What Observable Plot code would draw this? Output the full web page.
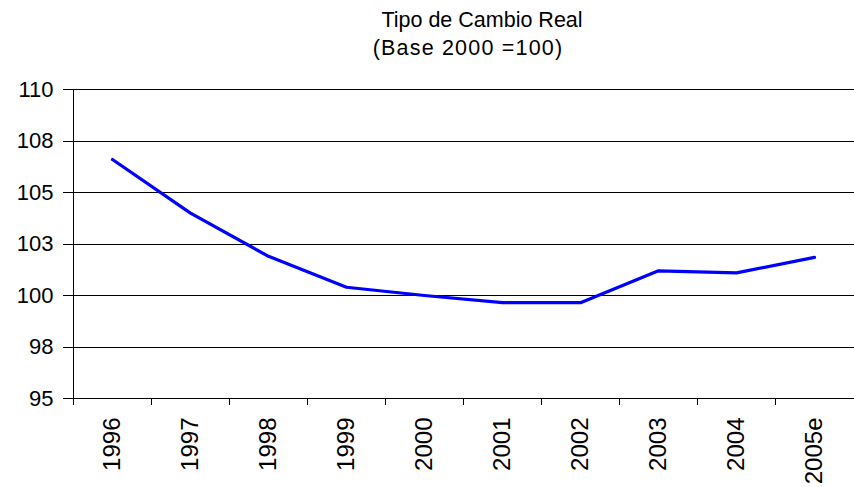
<!DOCTYPE html>
<html><head><meta charset="utf-8">
<script src="https://cdn.jsdelivr.net/npm/d3@7"></script>
<script src="https://cdn.jsdelivr.net/npm/@observablehq/plot@0.6"></script>
<style>
body{margin:0;background:#fff;font-family:"Liberation Sans",Arial,sans-serif;}
#title{width:854px;height:62px;box-sizing:border-box;padding-top:6px;text-align:center;font-size:21.5px;line-height:28px;color:#000;}
#t1{padding-left:110px;}
#t2{padding-left:82px;letter-spacing:1.2px;}
</style></head><body>
<div id="title"><div id="t1">Tipo de Cambio Real</div><div id="t2">(Base 2000 =100)</div></div>
<div id="chart"></div>
<script>
const years = ["1996","1997","1998","1999","2000","2001","2002","2003","2004","2005e"];
const values = [106.6, 104.0, 101.9, 100.4, 100.0, 99.65, 99.65, 101.2, 101.1, 101.85];
const yTicks = [95, 97.5, 100, 102.5, 105, 107.5, 110];
const yTickLabels = ["95","98","100","103","105","108","110"];

const data = years.map((year, i) => ({year, value: values[i]}));
const W = 854, H = 425, mL = 71, mR = 0, mT = 27, mB = 89;
const bw = (W - mL - mR) / years.length;

const plot = Plot.plot({
  width: W, height: H,
  marginLeft: mL, marginRight: mR, marginTop: mT, marginBottom: mB,
  style: {fontFamily: "'Liberation Sans', Arial, sans-serif", background: "#fff", color: "#000", overflow: "visible"},
  x: {type: "band", domain: years, padding: 0, label: null},
  y: {domain: [95, 110], label: null},
  marks: [
    Plot.ruleY(yTicks, {stroke: "#000", strokeWidth: 1, shapeRendering: "crispEdges"}),
    Plot.ruleX([years[0]], {y1: 95, y2: 110, stroke: "#000", dx: -bw / 2, shapeRendering: "crispEdges"}),
    Plot.ruleX(years, {x: d => d, y1: 95, y2: 95, insetBottom: -7, stroke: "#000", dx: -bw / 2, shapeRendering: "crispEdges"}),
    Plot.axisY({ticks: yTicks, tickFormat: d => yTickLabels[yTicks.indexOf(d)], tickSize: 8, tickPadding: 10, fontSize: 22, label: null, shapeRendering: "crispEdges"}),
    Plot.axisX({tickSize: 0, tickRotate: -90, tickPadding: 19, fontSize: 24, label: null}),
    Plot.line(data, {x: "year", y: "value", stroke: "#0000ff", strokeWidth: 3.2})
  ]
});
document.getElementById("chart").appendChild(plot);
</script>
</body></html>
